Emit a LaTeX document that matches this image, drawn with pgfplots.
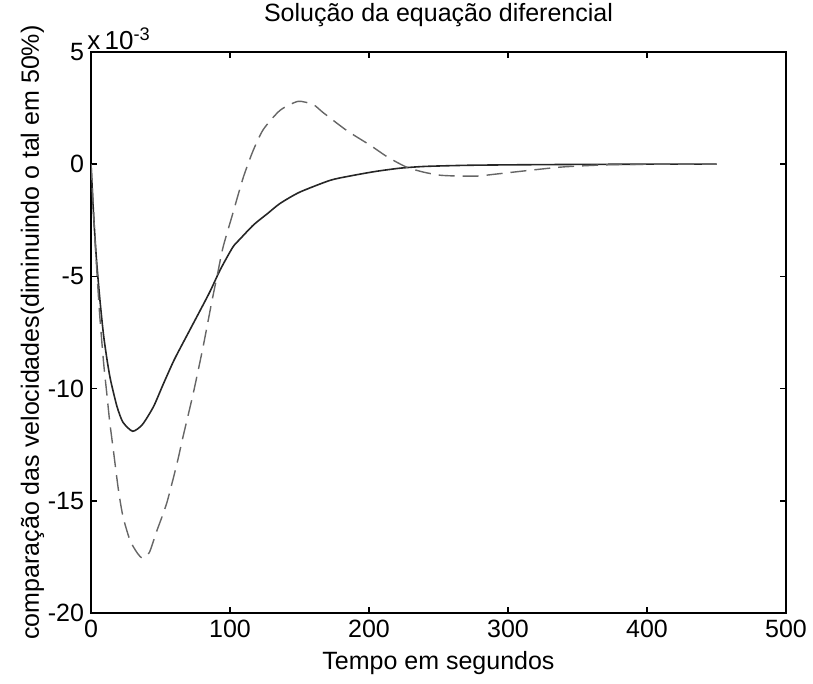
\documentclass[border=0pt]{standalone}
\usepackage{fontspec}
\setmainfont{Liberation Sans}
\usepackage{pgfplots}
\pgfplotsset{compat=1.18}
\begin{document}
\begin{tikzpicture}
\begin{axis}[
    scale only axis,
    width=347.5pt, height=280.5pt,
    xmin=0, xmax=500, ymin=-20, ymax=5,
    xtick={0,100,200,300,400,500},
    ytick={-20,-15,-10,-5,0,5},
    scaled ticks=false,
    clip mode=individual,
    tick align=inside,
    major tick length=3pt,
    axis line style={line width=0.8pt},
    every tick/.style={black, line width=0.8pt},
    /pgf/number format/assume math mode=true,
    tick label style={font=\fontsize{12.5}{14}\selectfont},
    label style={font=\fontsize{12.5}{14}\selectfont},
    title style={font=\fontsize{12.5}{14}\selectfont, yshift=3pt},
    title={Solução da equação diferencial},
    xlabel={Tempo em segundos},
    ylabel={comparação das velocidades(diminuindo o tal em 50\%)},
    xlabel style={yshift=0pt},
    ylabel style={yshift=-5pt},
]
\addplot[black!85, line width=0.8pt, smooth, tension=0.4] coordinates {
    (0,0)(2,-2.4)(4,-4.3)(6.5,-6.1)(9,-7.6)(11.5,-8.7)(14,-9.6)
    (18.7,-10.8)(23,-11.5)(30,-11.9)(37,-11.6)(45,-10.8)(52,-9.8)
    (60,-8.7)(71,-7.4)(85,-5.75)(93,-4.7)(102,-3.7)(107,-3.35)
    (117,-2.7)(127,-2.2)(136,-1.75)(150,-1.25)(172,-0.72)(186,-0.53)
    (204,-0.33)(222,-0.18)(240,-0.1)(270,-0.05)(300,-0.03)(350,-0.01)
    (400,0)(450,0)
};
\addplot[black!60, line width=0.7pt, dash pattern=on 8pt off 4pt, smooth, tension=0.4] coordinates {
    (0,0)(3,-3.5)(6,-6.5)(9,-8.8)(11.5,-10.3)(13.5,-11.5)(16,-12.7)
    (19.7,-14.5)(23,-15.7)(28,-16.75)(33,-17.3)(37,-17.55)(42,-17.3)
    (47,-16.4)(54.5,-15.1)(62,-13.3)(66,-12.2)(73.6,-10.2)(80.6,-8.15)
    (87,-6.1)(91,-4.9)(95,-3.7)(102,-2.2)(109.5,-0.6)(116.6,0.6)
    (124,1.55)(136,2.4)(149,2.8)(160,2.65)(167,2.3)(184,1.5)
    (200.7,0.85)(213.6,0.31)(227,-0.13)(239,-0.35)(251,-0.49)
    (265,-0.53)(278,-0.53)(290,-0.45)(316,-0.27)(340,-0.12)
    (370,-0.03)(400,0)(450,0)
};
\node[anchor=south west, inner sep=1pt, xshift=-3pt, font=\fontsize{13}{14}\selectfont]
    at (rel axis cs:0,1) {x\,10\textsuperscript{-3}};
\end{axis}
\pgfresetboundingbox
\path (-45.5pt,-35.5pt) rectangle (361pt,306.5pt);
\end{tikzpicture}
\end{document}
